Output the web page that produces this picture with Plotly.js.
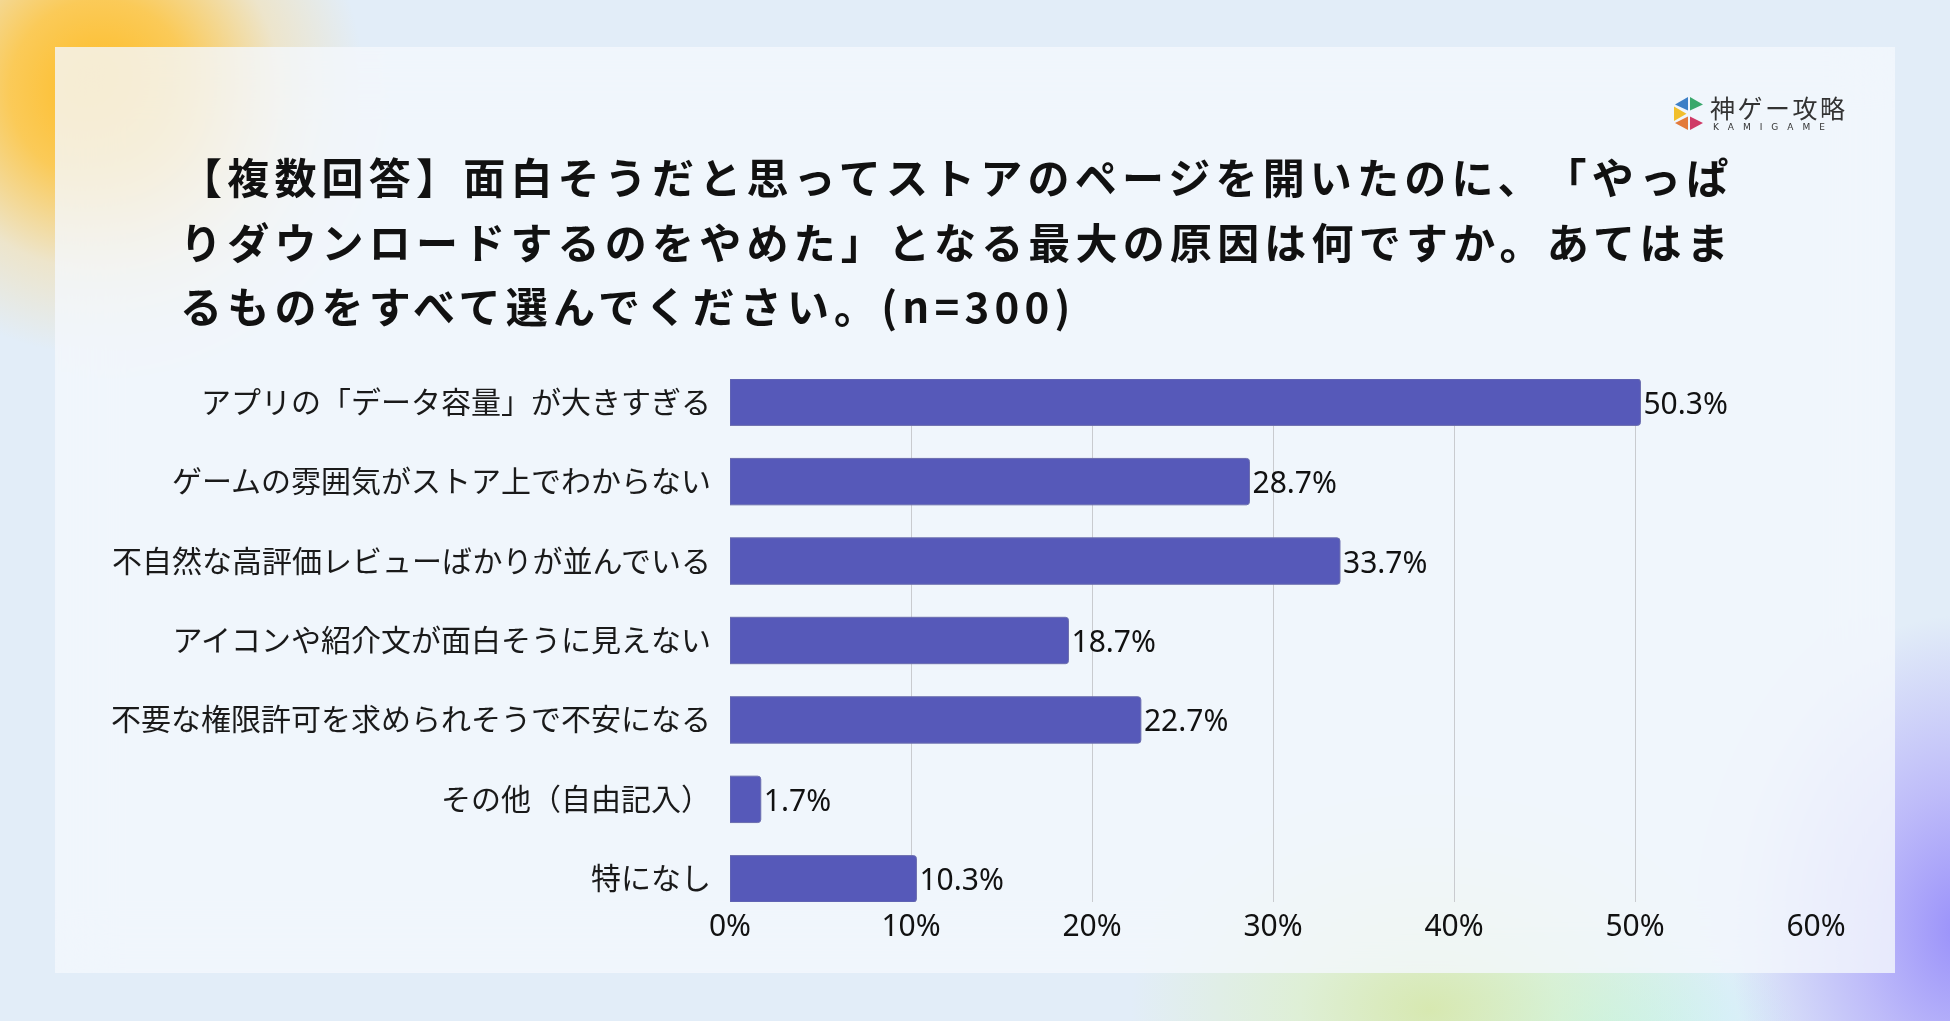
<!DOCTYPE html>
<html>
<head>
<meta charset="utf-8">
<script src="https://cdn.plot.ly/plotly-3.0.1.min.js"></script>
<style>
  html, body { margin: 0; padding: 0; width: 1950px; height: 1021px; overflow: hidden; }
  body {
    background-color: #e2edf8;
    background-image:
      radial-gradient(circle at 100px 90px, rgba(255,186,30,0.98) 0px, rgba(255,196,60,0.85) 90px, rgba(255,215,130,0.38) 180px, rgba(255,230,180,0) 265px),
      radial-gradient(ellipse 190px 260px at 1960px 930px, rgba(150,140,250,0.95) 0px, rgba(170,160,250,0.65) 100px, rgba(200,200,250,0) 230px),
      radial-gradient(ellipse 300px 200px at 1430px 1010px, rgba(215,232,175,0.98) 0px, rgba(220,240,195,0.65) 130px, rgba(220,240,220,0) 300px),
      radial-gradient(ellipse 220px 130px at 1590px 1035px, rgba(190,245,245,0.95) 0px, rgba(200,240,245,0) 210px);
  }
  #panel {
    position: absolute; left: 55px; top: 47px; width: 1840px; height: 926px;
    background: rgba(244,248,252,0.8);
    backdrop-filter: blur(30px);
  }
  #chart { position: absolute; left: 0; top: 0; width: 1950px; height: 1021px; }
  #chart text { text-spacing-trim: space-all; }
  .annotation[data-index="0"] text, .annotation[data-index="1"] text, .annotation[data-index="2"] text { letter-spacing: 5.2px; }
  .annotation[data-index="3"] text { letter-spacing: 2.5px; }
  .annotation[data-index="4"] text { letter-spacing: 9px; }
</style>
</head>
<body>
<div id="panel"></div>
<div id="chart"></div>
<script>
// ---- data ----
const categories = [
  "アプリの「データ容量」が大きすぎる",
  "ゲームの雰囲気がストア上でわからない",
  "不自然な高評価レビューばかりが並んでいる",
  "アイコンや紹介文が面白そうに見えない",
  "不要な権限許可を求められそうで不安になる",
  "その他（自由記入）",
  "特になし"
];
const values = [50.3, 28.7, 33.7, 18.7, 22.7, 1.7, 10.3];
const tickValues = [0, 10, 20, 30, 40, 50, 60];
const tickLabels = ["0%", "10%", "20%", "30%", "40%", "50%", "60%"];
const titleLines = [
  "【複数回答】面白そうだと思ってストアのページを開いたのに、「やっぱ",
  "りダウンロードするのをやめた」となる最大の原因は何ですか。あてはま",
  "るものをすべて選んでください。(n=300)"
];
const logoText = "神ゲー攻略";
const logoSub = "KAMIGAME";

// ---- layout geometry (pixels) ----
const W = 1950, H = 1021;
const L = 730, R = 1816, T = 379, B = 902;
const px = x => (x - L) / (R - L);
const py = y => (B - y) / (B - T);

const trace = {
  type: "bar",
  orientation: "h",
  y: categories,
  x: values,
  marker: { color: "#5659b9", line: { color: "#6b6eae", width: 1 }, cornerradius: 3 },
  text: values.map(v => v.toFixed(1) + "%"),
  textposition: "outside",
  textfont: { family: "Noto Sans, Noto Sans CJK JP", size: 30, color: "#111111" },
  cliponaxis: false,
  hoverinfo: "skip"
};

function tri(pts) {
  return "M" + pts.map(p => px(p[0]) + "," + py(p[1])).join(" L") + " Z";
}
const logoShapes = [
  { pts: [[1675,104.5],[1688,97],[1688,110.5]], c: "#3d7fc6" },
  { pts: [[1690,97],[1703,104.5],[1690,110.5]], c: "#3aa86c" },
  { pts: [[1674,106.5],[1674,121],[1686.5,113.8]], c: "#f1bf2c" },
  { pts: [[1675,123],[1688,116.5],[1688,130]], c: "#e27a3b" },
  { pts: [[1690,116.5],[1703,123],[1690,130]], c: "#cf3a66" }
].map(s => ({
  type: "path", xref: "paper", yref: "paper", path: tri(s.pts),
  fillcolor: s.c, line: { width: 0 }, layer: "above"
}));

const titleY = [176, 241, 305];
const annotations = titleLines.map((t, i) => ({
  text: t, xref: "paper", yref: "paper", x: px(178), y: py(titleY[i]),
  xanchor: "left", yanchor: "middle", align: "left", showarrow: false,
  font: { family: "Noto Sans CJK JP", size: 42, color: "#111111", weight: 700 }
}));
annotations.push({
  text: logoText, xref: "paper", yref: "paper", x: px(1708), y: py(107),
  xanchor: "left", yanchor: "middle", align: "left", showarrow: false,
  font: { family: "Noto Sans CJK JP", size: 25, color: "#333333" }
});
annotations.push({
  text: logoSub, xref: "paper", yref: "paper", x: px(1711), y: py(127),
  xanchor: "left", yanchor: "middle", align: "left", showarrow: false,
  font: { family: "DejaVu Sans", size: 9, color: "#333333" }
});

const layout = {
  width: W, height: H,
  margin: { l: L, r: W - R, t: T, b: H - B, pad: 0 },
  paper_bgcolor: "rgba(0,0,0,0)",
  plot_bgcolor: "rgba(0,0,0,0)",
  showlegend: false,
  bargap: 0.416,
  xaxis: {
    range: [0, 60],
    tickvals: tickValues,
    ticktext: tickLabels,
    showgrid: true, gridcolor: "#c9cbcf", gridwidth: 1,
    zeroline: false, showline: false, ticks: "",
    ticklabelstandoff: 3,
    tickfont: { family: "Noto Sans, Noto Sans CJK JP", size: 30, color: "#111111" },
    fixedrange: true
  },
  yaxis: {
    type: "category",
    range: [6.292, -0.292],
    showgrid: false, zeroline: false, showline: false, ticks: "",
    ticklabelstandoff: 18,
    tickfont: { family: "Noto Sans CJK JP", size: 30, color: "#1a1a1a" },
    fixedrange: true
  },
  annotations: annotations,
  shapes: logoShapes
};

Plotly.newPlot("chart", [trace], layout, { displayModeBar: false, staticPlot: true });
</script>
</body>
</html>
